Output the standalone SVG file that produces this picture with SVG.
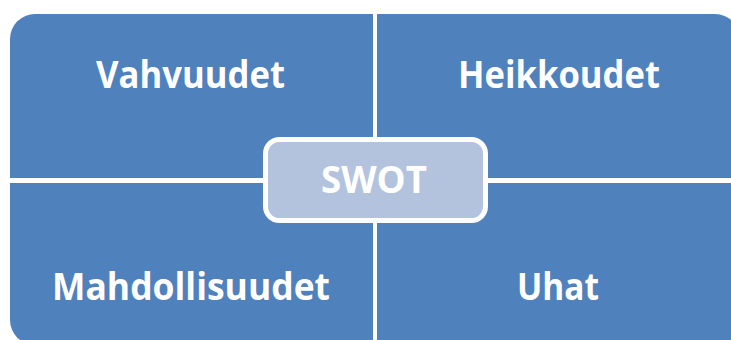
<svg xmlns="http://www.w3.org/2000/svg" width="731" height="340" viewBox="0 0 731 340">
<style>
.q{fill:#4F81BD}
.t{font-family:"Open Sans","Liberation Sans",sans-serif;font-weight:bold;font-size:37px;fill:#fff;text-anchor:middle}
</style>
<rect width="731" height="340" fill="#fff"/>
<g id="vahvuudet">
<path class="q" d="M10,39 A25,25 0 0 1 35,14 H373 V178 H10 Z"/>
<text class="t" x="190.5" y="88" textLength="189" lengthAdjust="spacingAndGlyphs">Vahvuudet</text>
</g>
<g id="heikkoudet">
<path class="q" d="M377,14 H715 A25,25 0 0 1 740,39 V178 H377 Z"/>
<text class="t" x="559" y="88" textLength="202" lengthAdjust="spacingAndGlyphs">Heikkoudet</text>
</g>
<g id="mahdollisuudet">
<path class="q" d="M10,183 H373 V345 H35 A25,25 0 0 1 10,320 Z"/>
<text class="t" x="191" y="300" textLength="278" lengthAdjust="spacingAndGlyphs">Mahdollisuudet</text>
</g>
<g id="uhat">
<path class="q" d="M377,183 H740 V345 H377 Z"/>
<text class="t" x="558" y="300" textLength="82" lengthAdjust="spacingAndGlyphs">Uhat</text>
</g>
<g id="connectors"></g>
<g id="swot">
<rect x="265.5" y="139.5" width="220" height="81" rx="14" fill="#B3C3DE" stroke="#fff" stroke-width="5"/>
<text class="t" x="374" y="193" textLength="106" lengthAdjust="spacingAndGlyphs">SWOT</text>
</g>
</svg>
